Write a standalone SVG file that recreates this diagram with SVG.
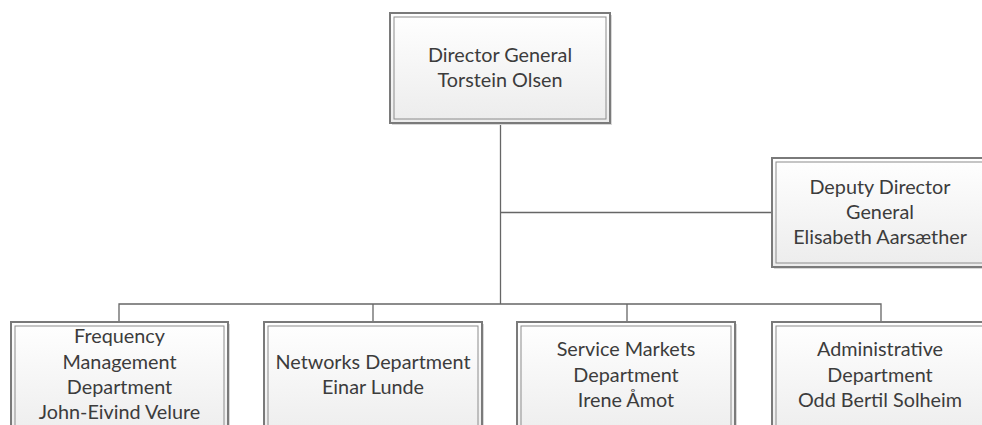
<svg xmlns="http://www.w3.org/2000/svg" width="982" height="425" viewBox="0 0 982 425">
<defs>
<linearGradient id="fill" x1="0" y1="0" x2="0" y2="1">
<stop offset="0" stop-color="#ffffff"/>
<stop offset="1" stop-color="#ececec"/>
</linearGradient>
<style>
.outer{fill:url(#fill);stroke:#7a7a7a;stroke-width:2}
.inner{fill:none;stroke:#8c8c8c;stroke-width:1}
.shadow{fill:#d8d8d8}
.conn{fill:none;stroke:#666666;stroke-width:1.3}
text{font-family:Lato,"Open Sans","Liberation Sans",sans-serif;font-size:19.8px;fill:#3c3c3c;text-anchor:middle}
</style>
</defs>
<rect width="982" height="425" fill="#ffffff"/>
<g id="connectors">
<line class="conn" x1="500.5" y1="123" x2="500.5" y2="304"/>
<line class="conn" x1="500.5" y1="212.5" x2="772" y2="212.5"/>
<polyline class="conn" points="119,322 119,304 881,304 881,322"/>
<line class="conn" x1="373" y1="304" x2="373" y2="322"/>
<line class="conn" x1="627" y1="304" x2="627" y2="322"/>
</g>
<g id="director">
<rect class="shadow" x="392" y="15" width="220" height="110"/>
<rect class="outer" x="390" y="13" width="220" height="110"/>
<rect class="inner" x="394" y="17" width="212" height="102"/>
<text x="500" y="62">Director General</text>
<text x="500" y="87">Torstein Olsen</text>
</g>
<g id="deputy">
<rect class="shadow" x="774" y="160" width="216" height="109"/>
<rect class="outer" x="772" y="158" width="216" height="109"/>
<rect class="inner" x="776" y="162" width="208" height="101"/>
<text x="880" y="194">Deputy Director</text>
<text x="880" y="219">General</text>
<text x="880" y="244">Elisabeth Aarsæther</text>
</g>
<g id="frequency">
<rect class="shadow" x="13" y="324" width="217" height="120"/>
<rect class="outer" x="11" y="322" width="217" height="120"/>
<rect class="inner" x="15" y="326" width="209" height="112"/>
<text x="119.5" y="343">Frequency</text>
<text x="119.5" y="369">Management</text>
<text x="119.5" y="394">Department</text>
<text x="119.5" y="419">John-Eivind Velure</text>
</g>
<g id="networks">
<rect class="shadow" x="266" y="324" width="218" height="120"/>
<rect class="outer" x="264" y="322" width="218" height="120"/>
<rect class="inner" x="268" y="326" width="210" height="112"/>
<text x="373" y="369">Networks Department</text>
<text x="373" y="394">Einar Lunde</text>
</g>
<g id="service">
<rect class="shadow" x="519" y="324" width="218" height="120"/>
<rect class="outer" x="517" y="322" width="218" height="120"/>
<rect class="inner" x="521" y="326" width="210" height="112"/>
<text x="626" y="356">Service Markets</text>
<text x="626" y="382">Department</text>
<text x="626" y="407">Irene Åmot</text>
</g>
<g id="administrative">
<rect class="shadow" x="774" y="324" width="218" height="120"/>
<rect class="outer" x="772" y="322" width="218" height="120"/>
<rect class="inner" x="776" y="326" width="210" height="112"/>
<text x="880" y="356">Administrative</text>
<text x="880" y="382">Department</text>
<text x="880" y="407">Odd Bertil Solheim</text>
</g>
</svg>
